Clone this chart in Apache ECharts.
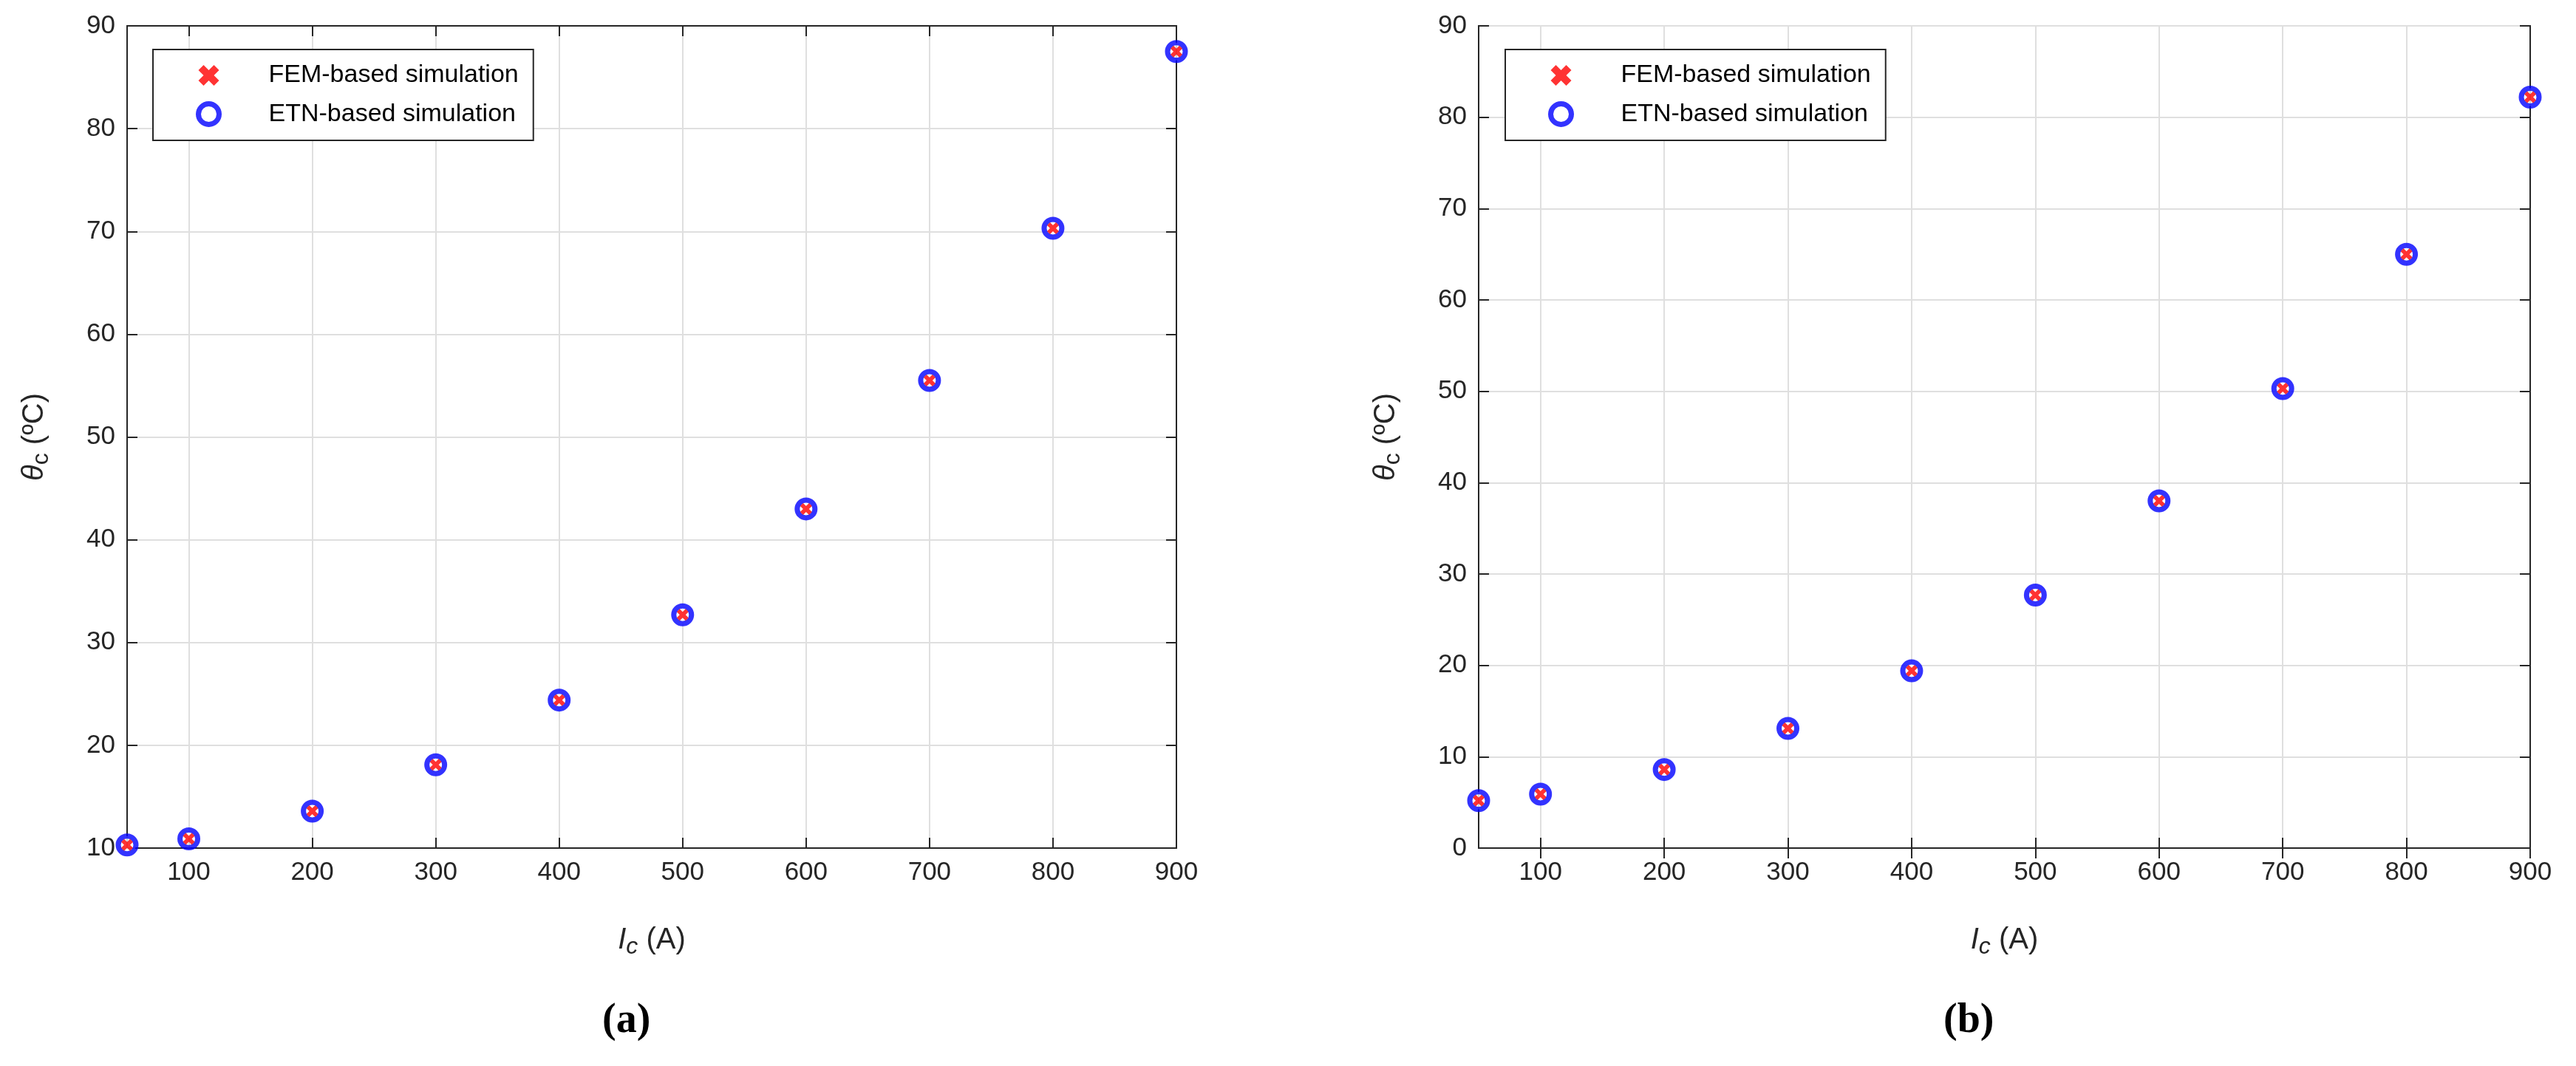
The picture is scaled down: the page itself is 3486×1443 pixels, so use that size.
<!DOCTYPE html>
<html><head><meta charset="utf-8">
<script src="https://cdn.jsdelivr.net/npm/echarts@6/dist/echarts.min.js"></script>
<style>html,body{margin:0;background:#fff}#c{width:3486px;height:1443px}</style>
</head><body><div id="c"></div>
<script>
const currents = [50,100,200,300,400,500,600,700,800,900];
const femA = [10.3,10.9,13.6,18.1,24.4,32.7,43.0,55.5,70.3,87.5];
const etnA = [10.3,10.9,13.6,18.1,24.4,32.7,43.0,55.5,70.3,87.5];
const femB = [5.2,5.9,8.6,13.1,19.4,27.7,38.0,50.3,65.0,82.2];
const etnB = [5.2,5.9,8.6,13.1,19.4,27.7,38.0,50.3,65.0,82.2];
const xTicks = [100,200,300,400,500,600,700,800,900];

const ch = echarts.init(document.getElementById('c'));
const F = 'Liberation Sans, Arial, sans-serif';
const crossPath = 'path://M0,2.5 L2.5,0 L5,2.5 L7.5,0 L10,2.5 L7.5,5 L10,7.5 L7.5,10 L5,7.5 L2.5,10 L0,7.5 L2.5,5 Z';
const grids = [
  {left:172, top:35, width:1420, height:1113, show:true, borderColor:'#262626', borderWidth:2, backgroundColor:'#fff'},
  {left:2001, top:35, width:1423, height:1113, show:true, borderColor:'#262626', borderWidth:2, backgroundColor:'#fff'}
];
const xAxis=[], yAxis=[], series=[];
const yCfg = [{min:10,max:90},{min:0,max:90}];
[0,1].forEach(g=>{
  xAxis.push({type:'value', gridIndex:g, min:50, max:900, position:'bottom',
    name:'{i|I}{s|c}{n| (A)}', nameLocation:'middle', nameGap:100,
    nameTextStyle:{rich:{i:{fontFamily:F,fontStyle:'italic',fontSize:40,color:'#262626'},
      s:{fontFamily:F,fontStyle:'italic',fontSize:32,color:'#262626',padding:[18,0,0,0]},
      n:{fontFamily:F,fontSize:40,color:'#262626'}}},
    axisLine:{show:true,lineStyle:{color:'#262626',width:2}},
    axisTick:{show:true,inside:true,length:14,customValues:xTicks,lineStyle:{color:'#262626',width:2}},
    axisLabel:{customValues:xTicks,fontFamily:F,fontSize:35,color:'#262626',margin:16},
    splitLine:{show:true,lineStyle:{color:'#dfdfdf',width:2}}});
  xAxis.push({type:'value', gridIndex:g, min:50, max:900, position:'top',
    axisLine:{show:true,lineStyle:{color:'#262626',width:2}},
    axisTick:{show:true,inside:true,length:14,customValues:xTicks,lineStyle:{color:'#262626',width:2}},
    axisLabel:{show:false}, splitLine:{show:false}});
  yAxis.push({type:'value', gridIndex:g, min:yCfg[g].min, max:yCfg[g].max, interval:10, position:'left',
    name:'{i|θ}{s|c}{n| (ºC)}', nameLocation:'middle', nameGap:100, nameRotate:90,
    nameTextStyle:{rich:{i:{fontFamily:F,fontStyle:'italic',fontSize:40,color:'#262626'},
      s:{fontFamily:F,fontSize:32,color:'#262626',padding:[18,0,0,0]},
      n:{fontFamily:F,fontSize:40,color:'#262626'}}},
    axisLine:{show:true,lineStyle:{color:'#262626',width:2}},
    axisTick:{show:true,inside:true,length:14,lineStyle:{color:'#262626',width:2}},
    axisLabel:{fontFamily:F,fontSize:35,color:'#262626',margin:16},
    splitLine:{show:true,lineStyle:{color:'#dfdfdf',width:2}}});
  yAxis.push({type:'value', gridIndex:g, min:yCfg[g].min, max:yCfg[g].max, interval:10, position:'right',
    axisLine:{show:true,lineStyle:{color:'#262626',width:2}},
    axisTick:{show:true,inside:true,length:14,lineStyle:{color:'#262626',width:2}},
    axisLabel:{show:false}, splitLine:{show:false}});
  const fem = g===0?femA:femB, etn = g===0?etnA:etnB;
  series.push({name:'ETN-based simulation', type:'scatter', xAxisIndex:g*2, yAxisIndex:g*2,
    data:currents.map((c,i)=>[c,etn[i]]), symbol:'circle', symbolSize:24, clip:false,
    itemStyle:{color:'#ffffff',borderColor:'#0000ff',borderWidth:7}, z:3});
  series.push({name:'FEM-based simulation', type:'scatter', xAxisIndex:g*2, yAxisIndex:g*2,
    data:currents.map((c,i)=>[c,fem[i]]), symbol:crossPath, symbolSize:16, clip:false,
    itemStyle:{color:'#ff0000'}, z:4});
});
const legendBase = {orient:'vertical', backgroundColor:'#fff', borderColor:'#262626', borderWidth:2,
  padding:[18,20,18,58], itemGap:18, itemWidth:28, itemHeight:28,
  textStyle:{fontFamily:F,fontSize:34,color:'#000',padding:[0,0,0,62]}};
const legendData = [
  {name:'FEM-based simulation', icon:crossPath, itemStyle:{color:'#ff0000'}},
  {name:'ETN-based simulation', icon:'circle', itemStyle:{color:'#ffffff',borderColor:'#0000ff',borderWidth:7}}
];
ch.setOption({
  animation:false,
  grid:grids, xAxis, yAxis, series,
  legend:[Object.assign({left:207, top:67, data:legendData}, legendBase),
          Object.assign({left:2037, top:67, data:legendData}, legendBase)],
  graphic:[
    {type:'text', left:815, top:1355, style:{text:'(a)', font:'bold 56px Liberation Serif, serif', fill:'#000'}},
    {type:'text', left:2630, top:1355, style:{text:'(b)', font:'bold 56px Liberation Serif, serif', fill:'#000'}}
  ]
});
</script></body></html>
